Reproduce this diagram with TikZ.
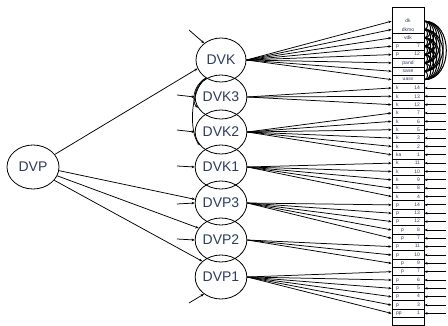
\documentclass[tikz,border=0pt]{standalone}
\usepackage{fontspec}
\setmainfont{Liberation Sans}
\usetikzlibrary{shapes.geometric,arrows.meta}
\definecolor{lbl}{RGB}{45,60,100}
\newcommand{\ctr}[1]{\hfill #1\hfill\null}
\begin{document}
\begin{tikzpicture}[x=1pt,y=-1pt,
 lat/.style={ellipse,draw,line width=0.8pt,minimum width=50pt,minimum height=44pt,inner sep=0pt,font=\fontsize{14}{14}\selectfont,text=lbl},
 ind/.style={rectangle,line width=0.8pt,minimum width=32pt,minimum height=8.35pt,inner sep=0pt,text width=24pt,font=\fontsize{5}{5}\selectfont,text=lbl,align=left},
 tip/.style={line width=0.75pt,-{Stealth[length=3.2pt,width=2.6pt]}},
 ln/.style={line width=0.8pt}]
\path[use as bounding box,fill=white] (0,0) rectangle (448,326);
% indicator column
\draw[ln] (392,7) rectangle (424,325);
\foreach \lab [count=\n from 0] in {\ctr{dk},\ctr{dkmo},\ctr{vdk},p\hfill 7,p\hfill 12,\ctr{pand},\ctr{sase},\ctr{uasv},
 k\hfill 14,k\hfill 13,k\hfill 12,k\hfill 7,k\hfill 6,k\hfill 5,k\hfill 3,k\hfill 2,ka\hfill 1,k\hfill 11,k\hfill 10,k\hfill 9,k\hfill 8,k\hfill 4,
 p\hfill 14,p\hfill 13,p\hfill 12,\hspace{5pt}p\hfill 8,\hspace{5pt}p\hfill 7,p\hfill 11,p\hfill 10,\hspace{5pt}p\hfill 9,\hspace{5pt}p\hfill 7,p\hfill 6,p\hfill 5,p\hfill 4,p\hfill 3,pp\hfill 1}{
 \ifnum\n>1
  \node[ind,draw] (r\n) at (408,{21.175+8.35*\n}) {\lab};
 \else
  \node[ind] (r\n) at (408,{21.175+8.35*\n}) {\lab};
 \fi
}
% latent variables
\node[lat] (DVK)  at (221,60)  {DVK};
\node[lat] (DVK3) at (221,97)  {DVK3};
\node[lat] (DVK2) at (221,132) {DVK2};
\node[lat] (DVK1) at (221,167) {DVK1};
\node[lat] (DVP3) at (221,203) {DVP3};
\node[lat] (DVP2) at (221,240) {DVP2};
\node[lat] (DVP1) at (221,277) {DVP1};
\node[lat,minimum width=52pt] (DVP) at (33,167) {DVP};
% loadings
\foreach \f/\a/\b in {DVK/0/7,DVK3/8/10,DVK2/11/16,DVK1/17/21,DVP3/22/26,DVP2/27/29,DVP1/30/35}{
 \foreach \i in {\a,...,\b}{\draw[tip] (\f.east) -- (r\i.west);}
}
% error terms
\foreach \i in {8,...,35}{
 \coordinate (e\i) at (446,{21.175+8.35*\i});
 \draw[tip] (e\i) -- (r\i.east);
}
% correlated errors of the first block
\foreach \i in {0,...,6}{
 \pgfmathtruncatemacro\s{\i+1}
 \foreach \j in {\s,...,7}{
  \pgfmathsetmacro\d{0.5*8.35*(\j-\i)}
  \draw[line width=1pt] (r\i.east) .. controls +(\d,0) and +(\d,0) .. (r\j.east);
 }
}
% structural paths
\draw[tip] (DVP.30) -- (DVK.200);
\draw[tip] (DVP.-8) -- (DVP3.172);
\draw[tip] (DVP.-20) -- (DVP2.152);
\draw[tip] (DVP.-32) -- (DVP1.140);
\draw[tip] (DVK.230) .. controls (190,90) and (189,132) .. (DVK2.212);
\draw[tip] (DVK.230) .. controls (192,86) and (192,103) .. (DVK3.205);
% disturbances
\coordinate (zK) at (189,30);
\coordinate (zK3) at (177,95);
\coordinate (zK2) at (177,130);
\coordinate (zK1) at (177,166);
\coordinate (zP3) at (177,204);
\coordinate (zP2) at (177,239);
\coordinate (zP1) at (189,303);
\draw[tip] (zK) -- (DVK.135);
\draw[tip] (zK3) -- (DVK3.west);
\draw[tip] (zK2) -- (DVK2.west);
\draw[tip] (zK1) -- (DVK1.west);
\draw[tip] (zP3) -- (DVP3.west);
\draw[tip] (zP2) -- (DVP2.west);
\draw[tip] (zP1) -- (DVP1.225);
\end{tikzpicture}
\end{document}
